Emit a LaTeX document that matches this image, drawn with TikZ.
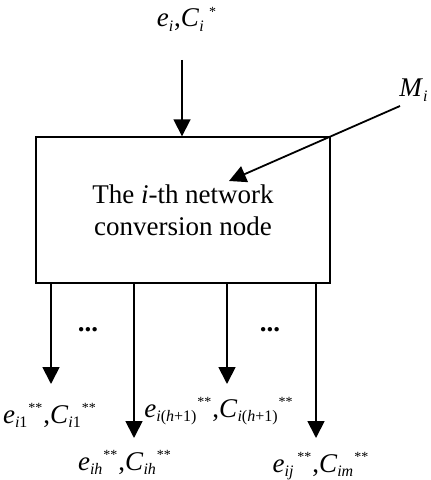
\documentclass[tikz,border=0pt]{standalone}
\usepackage{fontspec}
\setmainfont{Liberation Serif}
\usetikzlibrary{positioning,arrows.meta}

% small sub- and superscripts as in the drawing
\newcommand{\lowtx}[1]{\textsubscript{\fontsize{8}{8}\selectfont#1}}
\newcommand{\uptx}[1]{\textsuperscript{\fontsize{7}{7}\selectfont#1}}
% e^{**}, C^{**} output pair, subscripts as arguments
\newcommand{\outpair}[2]{\textit{e}\lowtx{#1}\uptx{**},\textit{C}\lowtx{#2}\uptx{**}}

\begin{document}
\begin{tikzpicture}[
  x=0.5pt,y=-0.5pt,
  font=\fontsize{13.5}{16}\selectfont,
  box/.style={rectangle,draw=black,line width=0.7pt,minimum width=147pt,
              minimum height=73pt,align=center,inner sep=2pt},
  lbl/.style={inner sep=0pt,anchor=base},
  arr/.style={-{Triangle[length=8.5pt,width=8.5pt]},line width=0.9pt},
]
\useasboundingbox (0,0) rectangle (430,480);

% ---------- conversion node ----------
\node[box] (conv) at (183,210) {The \textit{i}-th network\\conversion node};

% ---------- inputs ----------
\node[lbl] (inLbl) at (187,27) {\textit{e}\lowtx{\textit{i}},\textit{C}\lowtx{\textit{i}}\,\uptx{*}};
\coordinate (inStart) at (182,60);
\draw[arr] (inStart) -- (conv.north -| inStart);

\node[lbl] (mLbl) at (414,97) {\textit{M}\lowtx{\textit{i}}};
\coordinate (mStart) at (400,106);
\coordinate (mEnd) at (229,181);
\draw[arr] (mStart) -- (mEnd);

% ---------- outputs ----------
\foreach \n/\x/\y in {1/51/384, 2/134/438, 3/227/384, 4/316/438} {
  \coordinate (out\n) at (\x,\y);
  \draw[arr] (conv.south -| out\n) -- (out\n);
}
\node[lbl] (outLblA) at (50,423) {\outpair{\textit{i}1}{\textit{i}1}};
\node[lbl] (outLblB) at (125,470) {\outpair{\textit{ih}}{\textit{ih}}};
\node[lbl] (outLblC) at (219,417) {\outpair{\textit{i}(\textit{h}+1)}{\textit{i}(\textit{h}+1)}};
\node[lbl] (outLblD) at (321,472) {\outpair{\textit{ij}\,}{\textit{im}}};

\node[lbl] (dotsA) at (88,331) {\textbf{...}};
\node[lbl] (dotsB) at (270,331) {\textbf{...}};
\end{tikzpicture}
\end{document}
